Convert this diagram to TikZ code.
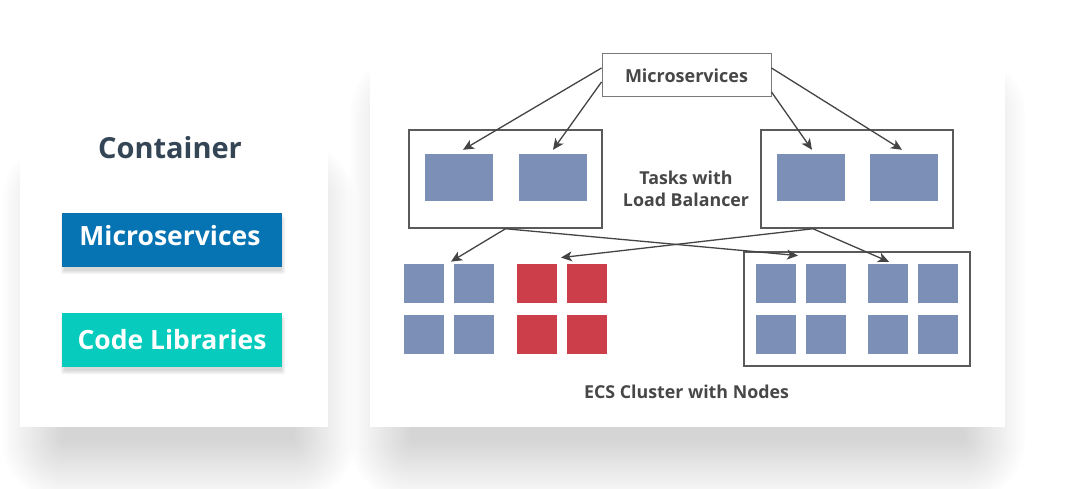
\documentclass[tikz,border=0pt]{standalone}
\usepackage{fontspec}
\setmainfont{Open Sans}
\usetikzlibrary{arrows.meta,calc,fit}
\definecolor{sqblue}{HTML}{7B8FB7}
\definecolor{sqred}{HTML}{CC3F4A}
\definecolor{btnblue}{HTML}{0673B3}
\definecolor{btnteal}{HTML}{07CCBD}
\definecolor{titlecol}{HTML}{344556}
\definecolor{txtgray}{HTML}{474747}
\definecolor{linegray}{HTML}{444444}
\definecolor{boxgray}{HTML}{5A5A5A}
\definecolor{msgray}{HTML}{7A7A7A}
\begin{document}
\begin{tikzpicture}[x=1pt,y=-1pt,
  card/.style={rectangle,fill=white,draw=none,inner sep=0pt},
  shadowlayer/.style={fill=black,opacity=0.0095},
  btnshadow/.style={fill=black,opacity=0.05},
  btn/.style={rectangle,inner sep=0pt,minimum width=220pt,minimum height=54pt,text=white,
    font=\bfseries\fontsize{26.5}{30}\selectfont},
  taskbox/.style={rectangle,draw=boxgray,line width=1.5pt,fill=white,inner sep=0pt,minimum width=193pt,minimum height=98pt},
  inner/.style={rectangle,fill=sqblue,inner sep=0pt,minimum width=68pt,minimum height=47pt},
  sqb/.style={rectangle,fill=sqblue,inner sep=0pt,minimum width=40pt,minimum height=39pt},
  sqr/.style={sqb,fill=sqred},
  grp/.style={inner sep=0pt,draw=none},
  lbl/.style={text=txtgray,font=\bfseries\fontsize{17.8}{22}\selectfont,align=center},
  arr/.style={draw=linegray,line width=1.3pt,-{Stealth[length=11pt,width=10pt,inset=3pt]}}
]
\useasboundingbox (0,0) rectangle (1080,489);
\fill[white] (0,0) rectangle (1080,489);

% soft shadows of the two cards
\foreach \o in {-30,-27,...,30}{
  \pgfmathsetmacro\rr{\o+32}
  \fill[shadowlayer,rounded corners=\rr pt] ({32-(\o)},{170-(\o)}) rectangle ({325+(\o)},{472+(\o)});
  \fill[shadowlayer,rounded corners=\rr pt] ({380-(\o)},{82-(\o)}) rectangle ({995+(\o)},{472+(\o)});
}

% cards
\node[card,minimum width=308pt,minimum height=314pt] (leftcard) at (174,270) {};
\node[card,minimum width=635pt,minimum height=387pt] (rightcard) at (687.5,233.5) {};

% button shadows
\foreach \o in {0,1.5,3}{
  \fill[btnshadow,rounded corners=2pt] ({64-(\o)},{219-(\o)}) rectangle ({282+(\o)},{271+(\o)});
  \fill[btnshadow,rounded corners=2pt] ({64-(\o)},{319-(\o)}) rectangle ({282+(\o)},{371+(\o)});
}

% left card content
\node[text=titlecol,font=\bfseries\fontsize{29}{34}\selectfont] (title) at (170,148) {Container};
\node[btn,fill=btnblue] (msbtn) at (172,240) {};
\node[text=white,font=\bfseries\fontsize{26.5}{30}\selectfont] (msbtntext) at ($(msbtn.center)+(-2,-4)$) {Microservices};
\node[btn,fill=btnteal] (cbtn) at (172,340) {Code Libraries};

% right card: microservices
\node[rectangle,draw=msgray,line width=1pt,fill=white,minimum width=169pt,minimum height=43pt,inner sep=0pt,
  text=txtgray,font=\bfseries\fontsize{18}{20}\selectfont] (ms) at (686.5,75.5) {Microservices};

% task boxes
\node[taskbox] (taskL) at (505.5,179) {};
\node[taskbox,minimum width=192pt] (taskR) at (857,179) {};
\node[inner] (L1) at (459,177.5) {};
\node[inner] (L2) at (552.5,177.5) {};
\node[inner] (R1) at (810.5,177.5) {};
\node[inner] (R2) at (904,177.5) {};
\node[lbl] (tasklbl) at (686,189) {Tasks with\\Load Balancer};

% cluster box
\node[rectangle,draw=boxgray,line width=1.5pt,inner sep=0pt,minimum width=226pt,minimum height=114pt] (cluster) at (857,309) {};

% square groups
\node[sqb] (a1) at (424,283.5) {};
\node[sqb] (a2) at (474,283.5) {};
\node[sqb] (a3) at (424,335) {};
\node[sqb] (a4) at (474,335) {};
\node[sqr] (b1) at (537,283.5) {};
\node[sqr] (b2) at (587,283.5) {};
\node[sqr] (b3) at (537,335) {};
\node[sqr] (b4) at (587,335) {};
\node[sqb] (c1) at (776,283.5) {};
\node[sqb] (c2) at (826,283.5) {};
\node[sqb] (c3) at (776,335) {};
\node[sqb] (c4) at (826,335) {};
\node[sqb] (d1) at (888,283.5) {};
\node[sqb] (d2) at (938,283.5) {};
\node[sqb] (d3) at (888,335) {};
\node[sqb] (d4) at (938,335) {};
\node[grp,fit=(a1)(a4)] (gA) {};
\node[grp,fit=(b1)(b4)] (gB) {};
\node[grp,fit=(c1)(c4)] (gC) {};

\node[lbl] (ecs) at (686.5,392) {ECS Cluster with Nodes};

% arrows from microservices
\draw[arr] ($(ms.west)+(0,-7.5)$) -- ($(L1.north)+(4,-4)$);
\draw[arr] ($(ms.west)+(0,6.5)$) -- ($(L2.north)+(0.5,-4)$);
\draw[arr] ($(ms.east)+(0,16.5)$) -- ($(R1.north)+(1.5,-4)$);
\draw[arr] ($(ms.east)+(0,-7.5)$) -- ($(R2.north)+(-2,-4)$);

% arrows from task boxes to cluster
\draw[arr] (taskL.south) -- ($(gA.north)+(2,-2)$);
\draw[arr] (taskL.south) -- ($(gC.north)+(-3,-8)$);
\draw[arr] ($(taskR.south)+(-44,0)$) -- ($(gB.north)+(-1,-6)$);
\draw[arr] ($(taskR.south)+(-44,0)$) -- ($(d1.north)+(1,-2)$);
\end{tikzpicture}
\end{document}
